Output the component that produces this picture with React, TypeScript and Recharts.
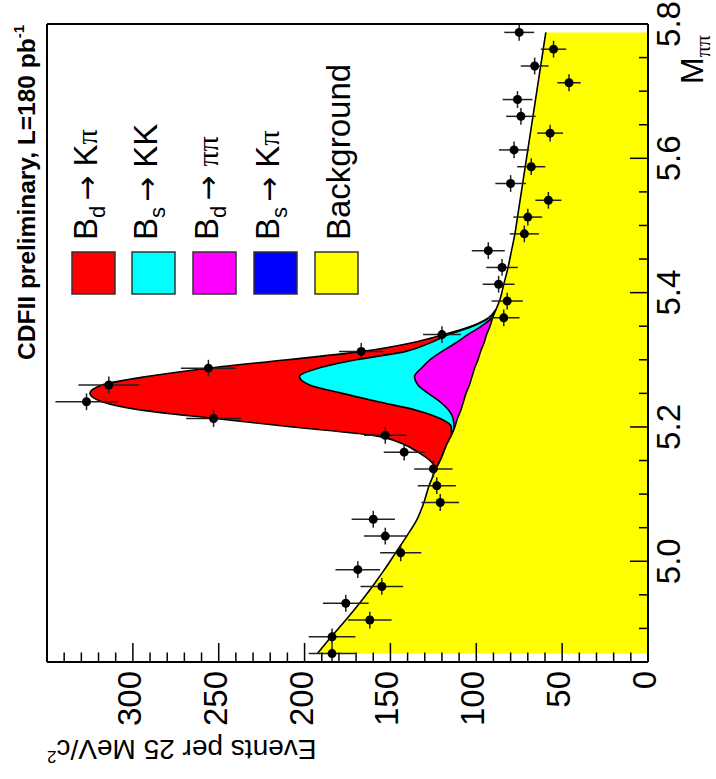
import React from 'react';
import { ComposedChart, Area, Scatter, ErrorBar, XAxis, YAxis, ReferenceLine } from 'recharts';

// data points: bin centres (GeV/c^2), events per 25 MeV bin, stat. errors
const binMass = [
  4.8625, 4.8875, 4.9125, 4.9375, 4.9625, 4.9875, 5.0125, 5.0375, 5.0625, 5.0875,
  5.1125, 5.1375, 5.1625, 5.1875, 5.2125, 5.2375, 5.2625, 5.2875, 5.3125, 5.3375,
  5.3625, 5.3875, 5.4125, 5.4375, 5.4625, 5.4875, 5.5125, 5.5375, 5.5625, 5.5875,
  5.6125, 5.6375, 5.6625, 5.6875, 5.7125, 5.7375, 5.7625, 5.7875,
];
const binCounts = [
  184, 184, 162, 176, 155, 169, 144, 153, 160, 121,
  123, 125, 142, 153, 253, 327, 314, 256, 167, 120,
  84, 82, 87, 85, 93, 72, 70, 58, 80, 68,
  78, 57, 74, 76, 46, 66, 55, 75,
];
const binErrors = [
  13.6, 13.6, 12.7, 13.3, 12.4, 13.0, 12.0, 12.4, 12.6, 11.0,
  11.1, 11.2, 11.9, 12.4, 15.9, 18.1, 17.7, 16.0, 12.9, 11.0,
  9.2, 9.1, 9.3, 9.2, 9.6, 8.5, 8.4, 7.6, 8.9, 8.2,
  8.8, 7.5, 8.6, 8.7, 6.8, 8.1, 7.4, 8.7,
];

// fitted background, sampled along the mass axis
const curveMass = [
  4.8625, 4.8875, 4.9125, 4.9375, 4.9625, 4.9875, 5.0125, 5.0375, 5.0625, 5.0875, 5.1125,
  5.125, 5.1375, 5.15, 5.1625, 5.175, 5.1875, 5.2, 5.2125, 5.225, 5.2375, 5.25,
  5.2625, 5.275, 5.2875, 5.3, 5.3125, 5.325, 5.3375, 5.35, 5.3625, 5.375,
  5.3875, 5.4125, 5.4375, 5.4625, 5.4875, 5.5125, 5.5375, 5.5625, 5.5875, 5.6125,
  5.6375, 5.6625, 5.6875, 5.7125, 5.7375, 5.7625, 5.7875,
];
const bgCurve = [
  192.5, 184.5, 176, 168, 160.5, 153.5, 147, 140.5, 134.5, 130.5, 127.5,
  125.5, 123.5, 121, 119, 117, 114.5, 112.5, 111, 109, 107.5, 106,
  104, 102.5, 101, 99, 97.5, 95.5, 94, 92, 90.5, 88.5,
  86.5, 84, 81.5, 79.5, 77.5, 76, 74.5, 73, 71.5, 70,
  68.5, 67, 65.5, 64, 62.5, 61, 59.5,
];

// peak region, cumulative levels of the stacked fit
const peakMass = [
  5.125, 5.1375, 5.15, 5.1625, 5.175, 5.1875, 5.2, 5.2125, 5.225, 5.2375, 5.25,
  5.2625, 5.275, 5.2875, 5.3, 5.3125, 5.325, 5.3375, 5.35, 5.3625, 5.375,
];
const totalCurve = [
  125.5, 124, 127, 134, 143, 160, 207, 252, 295, 318, 325,
  318, 292, 256, 210, 166, 138, 119, 103, 93, 88.5,
];
const kkCurve = [
  125.5, 123.5, 121, 119, 117, 114.5, 114.5, 121, 135, 157, 178,
  197, 203, 192, 170, 141, 127, 116, 102, 92.5, 88.5,
];
const pipiCurve = [
  125.5, 123.5, 121, 119, 117, 114.5, 113, 113.5, 116, 121, 128,
  134, 136, 132, 127, 120, 112, 105, 97, 91, 88.5,
];

const massTicks = [
  4.9, 4.95, 5.0, 5.05, 5.1, 5.15, 5.2, 5.25, 5.3, 5.35, 5.4,
  5.45, 5.5, 5.55, 5.6, 5.65, 5.7, 5.75, 5.8,
];
const massLabels = [5.0, 5.2, 5.4, 5.6, 5.8];
const eventTicks = [
  0, 10, 20, 30, 40, 50, 60, 70, 80, 90, 100, 110, 120, 130, 140, 150, 160, 170,
  180, 190, 200, 210, 220, 230, 240, 250, 260, 270, 280, 290, 300, 310, 320, 330, 340,
];
const eventLabels = [0, 50, 100, 150, 200, 250, 300];

const legendItems = [
  { sub: 'd', final: 'K', pi: 'π', color: '#ff0000' },
  { sub: 's', final: 'KK', pi: '', color: '#00ffff' },
  { sub: 'd', final: '', pi: 'ππ', color: '#ff00ff' },
  { sub: 's', final: 'K', pi: 'π', color: '#0000ff' },
  { sub: '', final: 'Background', pi: '', color: '#ffff00' },
];

const W = 779;
const H = 716;
const MARGIN = { top: 47, right: 24, bottom: 0, left: 0 };
const FONT = '"Liberation Sans", Arial, Helvetica, sans-serif';
const SERIF = '"Liberation Serif", serif';

const MassTick = (props: any) => {
  const { x, y, payload } = props;
  const major = massLabels.some((v) => Math.abs(v - payload.value) < 1e-6);
  return (
    <g>
      <line x1={x} y1={y} x2={x} y2={y - (major ? 18 : 9)} stroke="#000" strokeWidth={1.5} />
      {major && (
        <text x={x} y={y + 32} textAnchor="middle" fontSize={33} fontFamily={FONT} fill="#000">
          {payload.value.toFixed(1)}
        </text>
      )}
    </g>
  );
};

const EventTick = (props: any) => {
  const { x, y, payload } = props;
  const major = eventLabels.includes(payload.value);
  return (
    <g>
      <line x1={x} y1={y} x2={x + (major ? 19 : 9.5)} y2={y} stroke="#000" strokeWidth={1.5} />
      {major && (
        <text x={x - 9} y={y + 8} textAnchor="end" fontSize={33} fontFamily={FONT} fill="#000">
          {payload.value}
        </text>
      )}
    </g>
  );
};

const Dot = (props: any) => <circle cx={props.cx} cy={props.cy} r={4.5} fill="#000" />;

// axes only; `shown` = false keeps the same plot offsets with nothing drawn
const axes = (shown: boolean) => [
  <XAxis
    key="x"
    type="number"
    dataKey="m"
    domain={[4.85, 5.8]}
    allowDataOverflow
    ticks={massTicks}
    interval={0}
    height={68}
    tickSize={0}
    tickMargin={0}
    tickLine={false}
    axisLine={shown ? { stroke: '#000', strokeWidth: 2 } : false}
    tick={shown ? <MassTick /> : false}
  />,
  <YAxis
    key="y"
    type="number"
    domain={[0, 350]}
    allowDataOverflow
    ticks={eventTicks}
    interval={0}
    width={117}
    tickSize={0}
    tickMargin={0}
    tickLine={false}
    axisLine={shown ? { stroke: '#000', strokeWidth: 2 } : false}
    tick={shown ? <EventTick /> : false}
  />,
];

export default function App() {
  const curveData = curveMass.map((m, i) => {
    const j = peakMass.indexOf(m);
    return {
      m,
      bg: bgCurve[i],
      total: j >= 0 ? totalCurve[j] : null,
      kk: j >= 0 ? kkCurve[j] : null,
      pipi: j >= 0 ? pipiCurve[j] : null,
    };
  });
  const points = binMass.map((m, i) => ({ m, n: binCounts[i], ey: binErrors[i], ex: 0.0125 }));

  return (
    <div style={{ position: 'absolute', left: 0, top: 0, width: 716, height: 779, overflow: 'hidden', background: '#fff' }}>
      <div
        style={{
          position: 'absolute',
          left: 0,
          top: 0,
          width: W,
          height: H,
          transform: `translate(0px, ${W}px) rotate(-90deg)`,
          transformOrigin: '0 0',
        }}
      >
        <div style={{ position: 'absolute', left: 0, top: 0 }}>
          <ComposedChart width={W} height={H} data={curveData} margin={MARGIN}>
            {axes(false)}
            <Area type="monotone" dataKey="total" fill="#ff0000" fillOpacity={1} stroke="#000" strokeWidth={1.6} dot={false} activeDot={false} isAnimationActive={false} />
            <Area type="monotone" dataKey="kk" fill="#00ffff" fillOpacity={1} stroke="#000" strokeWidth={1.6} dot={false} activeDot={false} isAnimationActive={false} />
            <Area type="monotone" dataKey="pipi" fill="#ff00ff" fillOpacity={1} stroke="#000" strokeWidth={1.6} dot={false} activeDot={false} isAnimationActive={false} />
            <Area type="monotone" dataKey="bg" fill="#ffff00" fillOpacity={1} stroke="#000" strokeWidth={1.6} dot={false} activeDot={false} isAnimationActive={false} />
            <Scatter data={points} dataKey="n" shape={<Dot />} isAnimationActive={false}>
              <ErrorBar dataKey="ey" direction="y" width={0} stroke="#222" strokeWidth={1.5} isAnimationActive={false} />
              <ErrorBar dataKey="ex" direction="x" width={0} stroke="#222" strokeWidth={1.5} isAnimationActive={false} />
            </Scatter>
          </ComposedChart>
        </div>

        {/* frame and ticks on top of the filled areas, as in ROOT */}
        <div style={{ position: 'absolute', left: 0, top: 0, pointerEvents: 'none' }}>
          <ComposedChart width={W} height={H} data={curveData} margin={MARGIN}>
            {axes(true)}
            <ReferenceLine x={5.8} stroke="#000" strokeWidth={2} />
            <ReferenceLine y={350} stroke="#000" strokeWidth={2} />
          </ComposedChart>
        </div>

        <svg width={W} height={H} style={{ position: 'absolute', left: 0, top: 0, pointerEvents: 'none' }} fontFamily={FONT}>
          <text x={754} y={35} textAnchor="end" fontSize={24.5} fontWeight="bold" fill="#000">
            CDFII preliminary, L=180 pb
            <tspan dy={-11} fontSize={15}>-1</tspan>
          </text>

          <text x={695} y={703} fontSize={32} fill="#000">
            M
            <tspan dy={7} fontSize={22} fontFamily={SERIF}>ππ</tspan>
          </text>

          <text x={39} y={47} transform="rotate(-90, 39, 47)" textAnchor="end" fontSize={28} fill="#000">
            Events per 25 MeV/c
            <tspan dy={-11} fontSize={17}>2</tspan>
          </text>

          {legendItems.map((it, i) => {
            const top = [72, 132, 193, 254, 315][i];
            const base = it.sub ? top + 25 : top + 35;
            return (
              <g key={i}>
                <rect x={485} y={top} width={42} height={43} fill={it.color} stroke="#333" strokeWidth={1.5} />
                {it.sub ? (
                  <text x={539} y={base} fontSize={33} fill="#000">
                    B
                    <tspan dy={8} fontSize={22}>{it.sub}</tspan>
                    <tspan dy={-8} dx={5} fontFamily='"DejaVu Sans", sans-serif' fontSize={30}>→</tspan>
                    <tspan dx={9}>
                      {it.final}
                      {it.pi && <tspan fontFamily={SERIF} fontSize={30}>{it.pi}</tspan>}
                    </tspan>
                  </text>
                ) : (
                  <text x={539} y={base} fontSize={33} fill="#000">
                    {it.final}
                  </text>
                )}
              </g>
            );
          })}
        </svg>
      </div>
    </div>
  );
}
